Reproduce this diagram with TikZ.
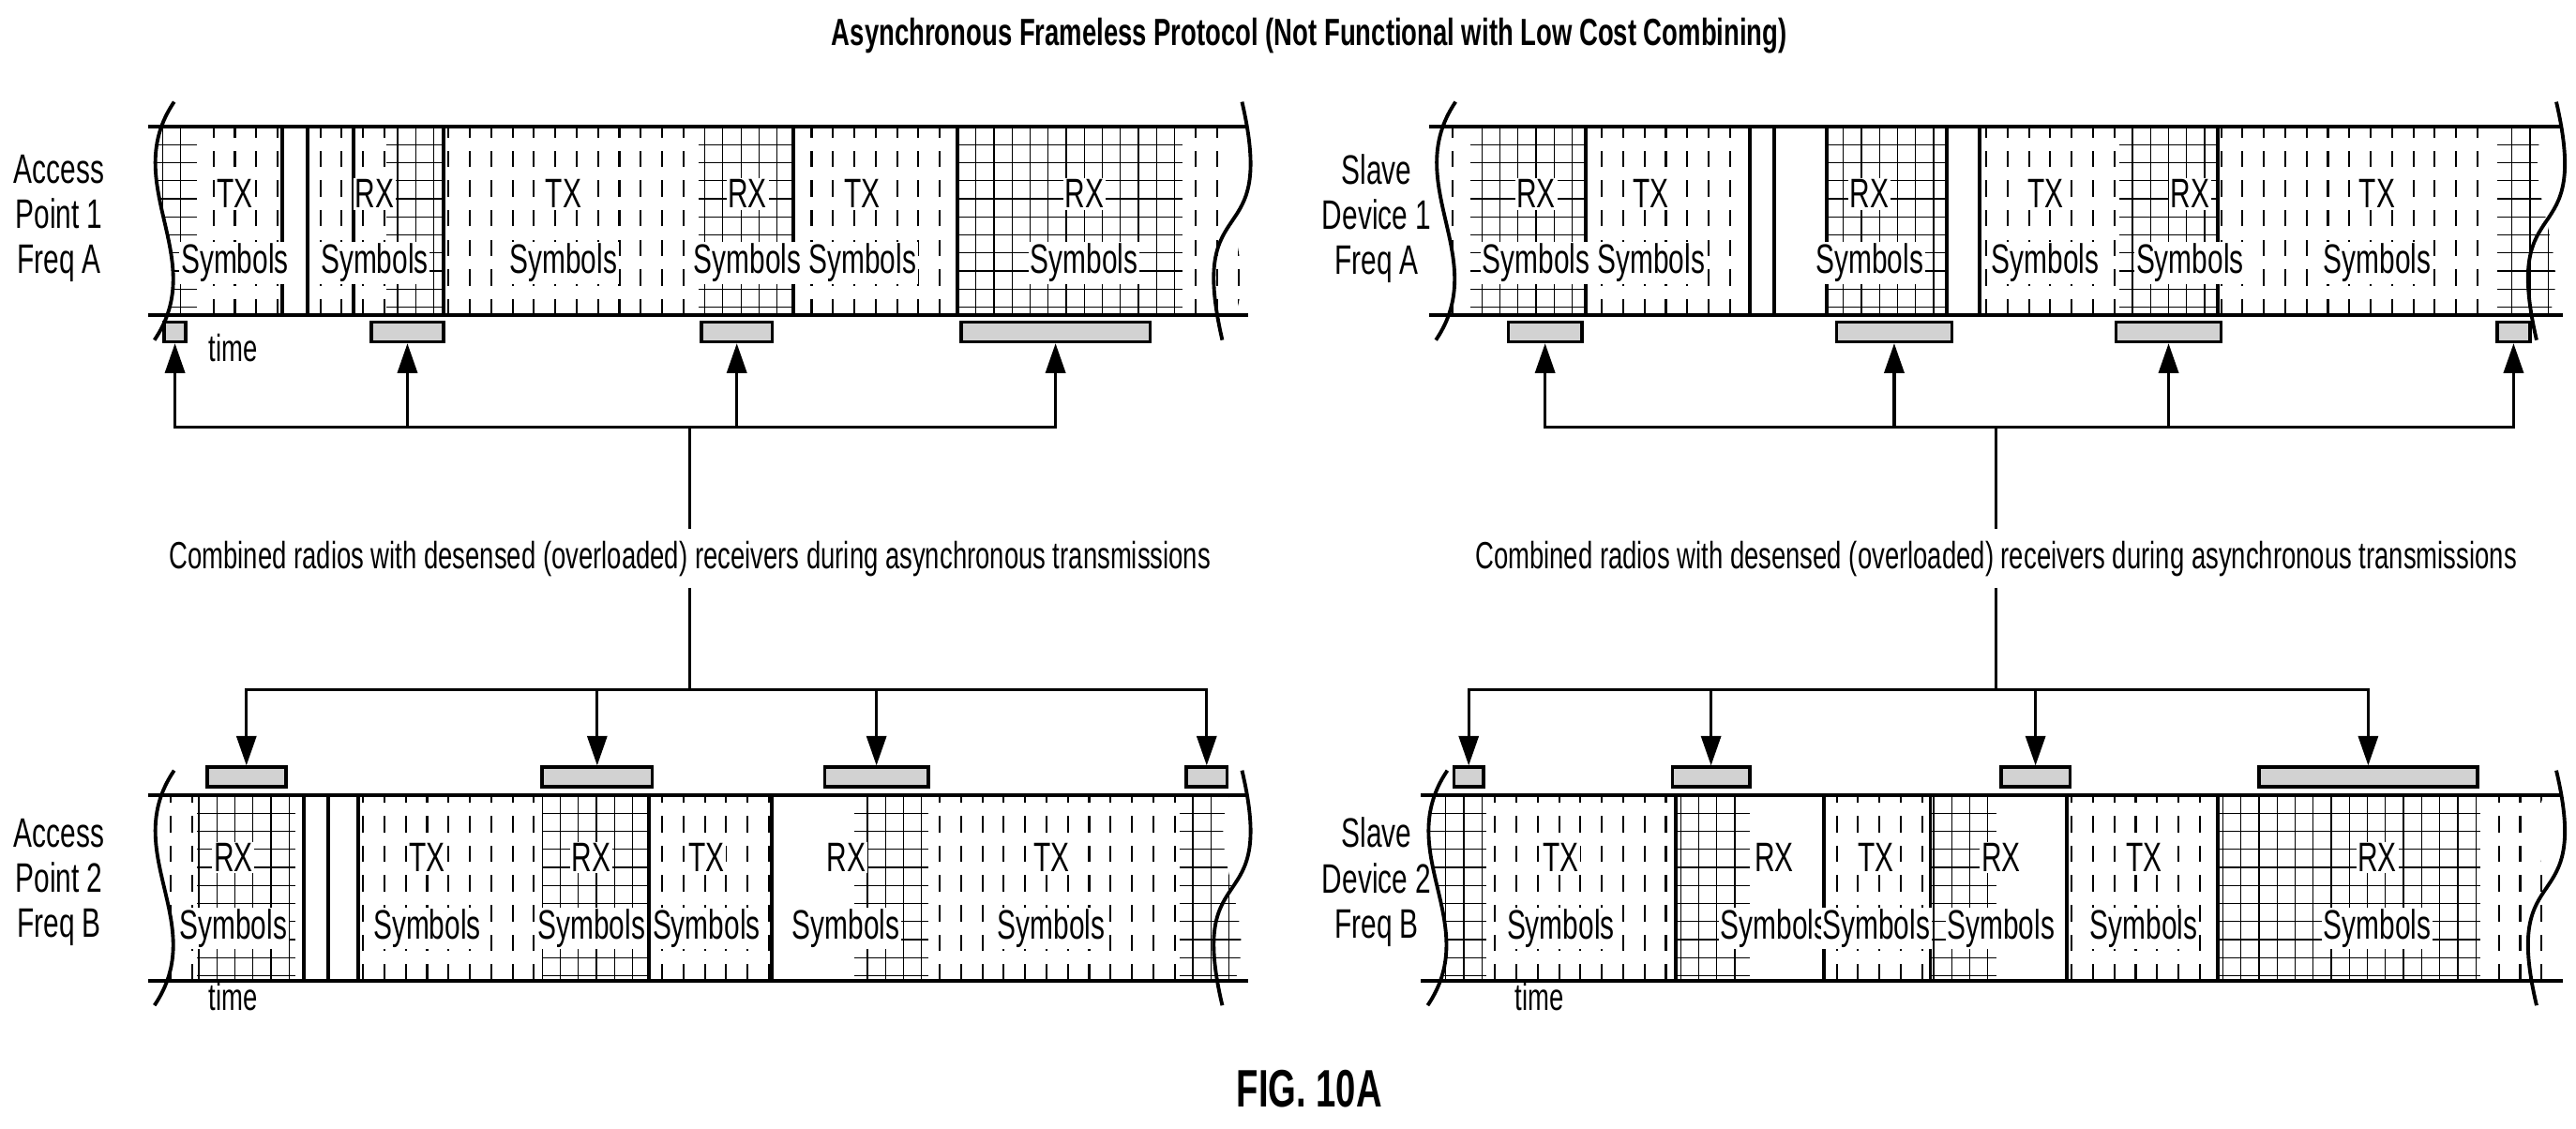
\documentclass[tikz,border=0pt]{standalone}
\usepackage{fontspec}
\setmainfont{Liberation Sans}[FakeStretch=0.68]
\usetikzlibrary{arrows.meta,patterns}

% strip with wavy ends: x1, x2, ytop, ybottom
\newcommand{\stripclip}[4]{%
  \clip (#1+6,#3-15) .. controls (#1-28,#3+35) and (#1+28,#4-35) .. (#1-6,#4+15)
    -- (#2-6,#4+15) .. controls (#2+28,#4-35) and (#2-28,#3+35) .. (#2+6,#3-15) -- cycle;
  \clip (#1-40,#3) rectangle (#2+40,#4);}
\newcommand{\stripedge}[4]{%
  \draw[edge] (#1+6,#3-15) .. controls (#1-28,#3+35) and (#1+28,#4-35) .. (#1-6,#4+15);
  \draw[edge] (#2+6,#3-15) .. controls (#2+28,#4-35) and (#2-28,#3+35) .. (#2-6,#4+15);
  \draw[edge] (#1-10,#3) -- (#2+10,#3) (#1-10,#4) -- (#2+10,#4);}
% segments: x1, x2, ytop, ybottom
\newcommand{\hatchseg}[4]{\draw[hatch] (#1,#3) grid (#2,#4);}
\newcommand{\txseg}[4]{\draw[txl] (#1,#3) grid (#2,#4);}
\newcommand{\rxbox}[4]{\node[rxbar, minimum width={(#3-#2)*0.01752cm}] (#1) at ({(#2+#3)/2},#4) {};}

\tikzset{
  edge/.style={line width=1.1pt},
  hatch/.style={line width=0.35pt, xstep=11, ystep=-11},
  txl/.style={line width=0.6pt, dash pattern=on 5pt off 4pt, xstep=13, ystep=1000},
  sep/.style={line width=1.1pt},
  lab/.style={font=\fontsize{12.5}{14}\selectfont, fill=white, inner sep=0.5pt},
  side/.style={font=\fontsize{12.5}{13.7}\selectfont, align=center},
  rxbar/.style={draw, line width=1pt, fill=gray!35, pattern color=black!70, minimum height={12*0.01752cm}, inner sep=0pt},
  arr/.style={line width=0.9pt, -{Triangle[width=6pt,length=9pt]}},
  note/.style={font=\fontsize{11.5}{13}\selectfont}
}

\begin{document}
\begin{tikzpicture}[x=0.01752cm, y=-0.01752cm]
\useasboundingbox (0,0) rectangle (1568,687);

% title
\node[font=\bfseries\fontsize{11.5}{13}\selectfont] (title) at (797,22) {Asynchronous Frameless Protocol (Not Functional with Low Cost Combining)};

% ---- Access Point 1 ----
\node[side] (ap1) at (36,133) {Access\\Point 1\\Freq A};
\begin{scope}
  \stripclip{100}{750}{77}{192}
  \hatchseg{80}{120}{77}{192}
  \txseg{120}{172}{77}{192}
  \draw[sep] (172,77)--(172,192) (187,77)--(187,192) (215,77)--(215,192);
  \txseg{187}{235}{77}{192}
  \hatchseg{235}{270}{77}{192}
  \draw[sep] (270,77)--(270,192);
  \txseg{270}{425}{77}{192}
  \hatchseg{425}{483}{77}{192}
  \draw[sep] (483,77)--(483,192) (583,77)--(583,192);
  \txseg{483}{583}{77}{192}
  \hatchseg{583}{720}{77}{192}
  \txseg{720}{770}{77}{192}
\end{scope}
\stripedge{100}{750}{77}{192}
\foreach \x/\t in {143/TX, 228/RX, 343/TX, 455/RX, 525/TX, 660/RX} {
  \node[lab] at (\x,118) {\t};
  \node[lab] at (\x,160) {Symbols};
}
\node[note] (time1) at (142,212) {time};

% ---- Slave Device 1 ----
\node[side] (sd1) at (838,133) {Slave\\Device 1\\Freq A};
\begin{scope}
  \stripclip{880}{1550}{77}{192}
  \txseg{880}{895}{77}{192}
  \hatchseg{895}{965}{77}{192}
  \draw[sep] (965,77)--(965,192);
  \txseg{965}{1065}{77}{192}
  \draw[sep] (1065,77)--(1065,192) (1080,77)--(1080,192) (1112,77)--(1112,192);
  \hatchseg{1112}{1185}{77}{192}
  \draw[sep] (1185,77)--(1185,192) (1205,77)--(1205,192);
  \txseg{1205}{1290}{77}{192}
  \hatchseg{1290}{1350}{77}{192}
  \draw[sep] (1350,77)--(1350,192);
  \txseg{1350}{1520}{77}{192}
  \hatchseg{1520}{1570}{77}{192}
\end{scope}
\stripedge{880}{1550}{77}{192}
\foreach \x/\t in {935/RX, 1005/TX, 1138/RX, 1245/TX, 1333/RX, 1447/TX} {
  \node[lab] at (\x,118) {\t};
  \node[lab] at (\x,160) {Symbols};
}

% ---- Access Point 2 ----
\node[side] (ap2) at (36,537) {Access\\Point 2\\Freq B};
\begin{scope}
  \stripclip{100}{750}{484}{597}
  \txseg{80}{120}{484}{597}
  \hatchseg{120}{180}{484}{597}
  \draw[sep] (185,484)--(185,597) (200,484)--(200,597) (218,484)--(218,597);
  \txseg{218}{330}{484}{597}
  \hatchseg{330}{395}{484}{597}
  \draw[sep] (395,484)--(395,597);
  \txseg{395}{470}{484}{597}
  \draw[sep] (470,484)--(470,597);
  \hatchseg{520}{565}{484}{597}
  \txseg{565}{718}{484}{597}
  \hatchseg{718}{770}{484}{597}
\end{scope}
\stripedge{100}{750}{484}{597}
\foreach \x/\t in {142/RX, 260/TX, 360/RX, 430/TX, 515/RX, 640/TX} {
  \node[lab] at (\x,522) {\t};
  \node[lab] at (\x,565) {Symbols};
}
\node[note] (time2) at (142,607) {time};

% ---- Slave Device 2 ----
\node[side] (sd2) at (838,537) {Slave\\Device 2\\Freq B};
\begin{scope}
  \stripclip{875}{1550}{484}{597}
  \hatchseg{860}{905}{484}{597}
  \txseg{905}{1020}{484}{597}
  \hatchseg{1020}{1065}{484}{597}
  \draw[sep] (1020,484)--(1020,597) (1110,484)--(1110,597);
  \txseg{1110}{1175}{484}{597}
  \draw[sep] (1175,484)--(1175,597);
  \hatchseg{1175}{1215}{484}{597}
  \txseg{1258}{1350}{484}{597}
  \draw[sep] (1258,484)--(1258,597) (1350,484)--(1350,597);
  \hatchseg{1350}{1510}{484}{597}
  \txseg{1510}{1570}{484}{597}
\end{scope}
\stripedge{875}{1550}{484}{597}
\foreach \x/\t in {950/TX, 1080/RX, 1142/TX, 1218/RX, 1305/TX, 1447/RX} {
  \node[lab] at (\x,522) {\t};
  \node[lab] at (\x,565) {Symbols};
}
\node[note] (time3) at (937,607) {time};

% ---- desensed receiver windows ----
\rxbox{ta}{100}{113}{202}
\rxbox{tb}{226}{270}{202}
\rxbox{tc}{427}{470}{202}
\rxbox{td}{585}{700}{202}
\rxbox{ua}{918}{963}{202}
\rxbox{ub}{1118}{1188}{202}
\rxbox{uc}{1288}{1352}{202}
\rxbox{ud}{1520}{1540}{202}
\rxbox{va}{126}{174}{473}
\rxbox{vb}{330}{397}{473}
\rxbox{vc}{502}{565}{473}
\rxbox{vd}{722}{747}{473}
\rxbox{wa}{885}{903}{473}
\rxbox{wb}{1018}{1065}{473}
\rxbox{wc}{1218}{1260}{473}
\rxbox{wd}{1375}{1508}{473}

% ---- combining connectors ----
\node[note] (comb1) at (420,340) {Combined radios with desensed (overloaded) receivers during asynchronous transmissions};
\node[note] (comb2) at (1215,340) {Combined radios with desensed (overloaded) receivers during asynchronous transmissions};
\coordinate (j1) at (420,260);
\coordinate (k1) at (420,420);
\coordinate (j2) at (1215,260);
\coordinate (k2) at (1215,420);
\draw[line width=0.9pt] (comb1.north) -- (j1) (comb1.south) -- (k1);
\draw[line width=0.9pt] (comb2.north) -- (j2) (comb2.south) -- (k2);
\foreach \b in {ta,tb,tc,td} \draw[arr] (j1) -| (\b.south);
\foreach \b in {va,vb,vc,vd} \draw[arr] (k1) -| (\b.north);
\foreach \b in {ua,ub,uc,ud} \draw[arr] (j2) -| (\b.south);
\foreach \b in {wa,wb,wc,wd} \draw[arr] (k2) -| (\b.north);

\node[font=\bfseries\fontsize{16}{18}\selectfont] (fig) at (797,663) {FIG. 10A};
\end{tikzpicture}
\end{document}
